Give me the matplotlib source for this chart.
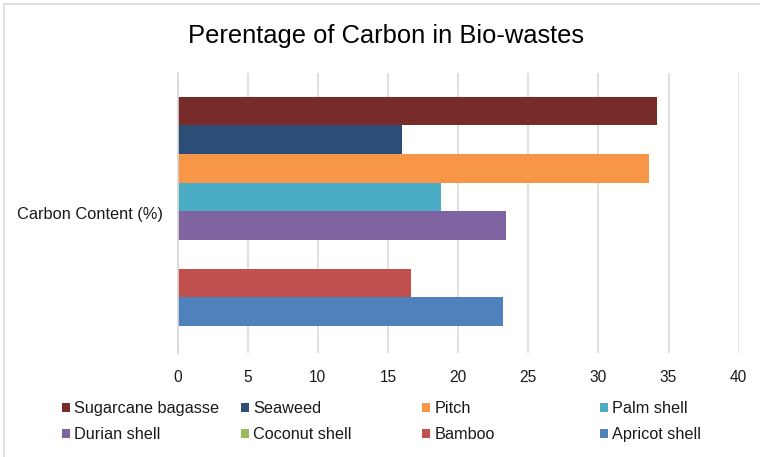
import matplotlib
matplotlib.use("Agg")
import matplotlib.pyplot as plt
from matplotlib.patches import Rectangle

plt.rcParams['font.family'] = ['Liberation Sans', 'DejaVu Sans']

# Data
category = "Carbon Content (%)"
series = ["Sugarcane bagasse", "Seaweed", "Pitch", "Palm shell",
          "Durian shell", "Coconut shell", "Bamboo", "Apricot shell"]
values = [34.2, 16.0, 33.6, 18.8, 23.4, 0.0, 16.65, 23.2]
colors = ["#772C2A", "#2C4D75", "#F79646", "#4BACC6",
          "#8064A2", "#9BBB59", "#C0504D", "#4F81BD"]
xticks = [0, 5, 10, 15, 20, 25, 30, 35, 40]

W, H = 760, 457
fig = plt.figure(figsize=(W / 100, H / 100), dpi=100)

# Outer chart border
fig.patches.append(Rectangle((4 / W, -0.02), 1.1, 1 - 4 / H + 0.02,
                             transform=fig.transFigure, fill=False,
                             edgecolor="#d9d9d9", linewidth=1.2))

ax = fig.add_axes([177.5 / W, 1 - 353 / H, (738.7 - 177.5) / W, (353 - 73) / H])

n = len(series)
group = 0.818
h = group / n
offset = 0.006
handles = []
for i, (name, val, col) in enumerate(zip(series, values, colors)):
    # first series on top, last at the bottom
    y = offset + group / 2 - h / 2 - i * h
    b = ax.barh(y, val, height=h, color=col, label=name, zorder=3)
    handles.append(b)

ax.set_xlim(0, 40)
ax.set_ylim(-0.5, 0.5)
ax.set_xticks(xticks)
ax.set_xticklabels([str(t) for t in xticks], fontsize=11.2, color="#1a1a1a")
ax.set_yticks([0])
ax.set_yticklabels([category], fontsize=11.8, color="#1a1a1a")
ax.tick_params(axis="both", length=0)
ax.tick_params(axis="x", pad=12)
ax.tick_params(axis="y", pad=10.5)
ax.grid(axis="x", color="#d9d9d9", linewidth=1.2, zorder=0)
for s in ["top", "right", "bottom"]:
    ax.spines[s].set_visible(False)
ax.spines["left"].set_color("#d9d9d9")
ax.spines["left"].set_linewidth(1.2)
ax.spines["left"].set_zorder(4)

fig.text(386 / W, 1 - 36 / H, "Perentage of Carbon in Bio-wastes",
         ha="center", va="center", fontsize=18.4, color="#000000")

# Legend laid out as four columns of two entries
col_x = [62, 241, 422, 600]
for c in range(4):
    hs = [handles[c], handles[c + 4]]
    leg = fig.legend(hs, [series[c], series[c + 4]],
                     loc="upper left",
                     bbox_to_anchor=(col_x[c] / W, 1 - 401 / H),
                     frameon=False, fontsize=11.7, handlelength=0.5,
                     handleheight=0.5, handletextpad=0.25, labelspacing=0.68,
                     borderaxespad=0, borderpad=0)
    for t in leg.get_texts():
        t.set_color("#1a1a1a")

fig.savefig("out.png", dpi=100)
